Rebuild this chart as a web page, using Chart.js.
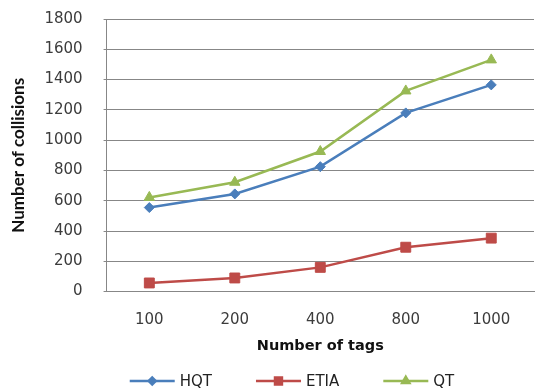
<!DOCTYPE html>
<html>
<head>
<meta charset="utf-8">
<script src="https://cdn.jsdelivr.net/npm/chart.js@4/dist/chart.umd.min.js"></script>
<style>
  html, body { margin: 0; padding: 0; background: #ffffff; overflow: hidden; }
  #wrap { position: relative; width: 542px; height: 392px; }
</style>
</head>
<body>
<div id="wrap"><canvas id="chart" width="542" height="392"></canvas></div>
<script>
// Number of tags on the x axis
const categories = ['100', '200', '400', '800', '1000'];

// Number of collisions per algorithm
const hqtValues  = [555, 645, 825, 1180, 1365];
const etiaValues = [57, 90, 160, 293, 353];
const qtValues   = [622, 722, 925, 1325, 1530];

// Value axis tick labels
const yTickValues = [0, 200, 400, 600, 800, 1000, 1200, 1400, 1600, 1800];

const GRID = '#878787';
const TICK_TEXT = '#3c3c3c';
const WIDE_FONT = '"DejaVu Sans", Verdana, sans-serif';
const NARROW_FONT = 'Lato, "Open Sans", sans-serif';

// Legend drawn as a short line with the series marker in its middle
const lineLegend = {
  id: 'lineLegend',
  afterDraw(chart, args, opts) {
    const ctx = chart.ctx;
    ctx.save();
    ctx.font = opts.fontSize + 'px ' + WIDE_FONT;
    const items = chart.data.datasets.map(ds => ({
      ds,
      w: opts.lineLength + opts.textGap + ctx.measureText(ds.label).width
    }));
    const total = items.reduce((s, it) => s + it.w, 0) + opts.itemGap * (items.length - 1);
    let x = opts.centerX - total / 2;
    const y = chart.height - opts.bottom;
    items.forEach(({ ds, w }) => {
      ctx.strokeStyle = ds.borderColor;
      ctx.lineWidth = ds.borderWidth;
      ctx.beginPath();
      ctx.moveTo(x, y);
      ctx.lineTo(x + opts.lineLength, y);
      ctx.stroke();
      ctx.fillStyle = ds.pointBackgroundColor;
      ctx.strokeStyle = ds.pointBorderColor;
      Chart.helpers.drawPoint(ctx, {
        pointStyle: ds.pointStyle,
        radius: ds.pointRadius * opts.markerScale,
        rotation: 0,
        borderWidth: 1
      }, x + opts.lineLength / 2, y);
      ctx.fillStyle = '#222222';
      ctx.textBaseline = 'middle';
      ctx.textAlign = 'left';
      ctx.fillText(ds.label, x + opts.lineLength + opts.textGap, y + 1);
      x += w + opts.itemGap;
    });
    ctx.restore();
  }
};

function series(label, data, color, style, radius) {
  return {
    label, data,
    borderColor: color,
    backgroundColor: color,
    borderWidth: 2.5,
    pointStyle: style,
    pointRadius: radius,
    pointHoverRadius: radius,
    pointBackgroundColor: color,
    pointBorderColor: color,
    pointBorderWidth: 1,
    tension: 0,
    fill: false
  };
}

new Chart(document.getElementById('chart'), {
  type: 'line',
  data: {
    labels: categories,
    datasets: [
      series('HQT', hqtValues, '#4a7ebb', 'rectRot', 5),
      series('ETIA', etiaValues, '#be4b48', 'rect', 7),
      series('QT', qtValues, '#98b954', 'triangle', 6)
    ]
  },
  options: {
    responsive: false,
    devicePixelRatio: 1,
    animation: false,
    events: [],
    layout: { padding: { top: 19, right: 0, bottom: 33, left: 0 } },
    plugins: {
      legend: { display: false },
      tooltip: { enabled: false },
      lineLegend: {
        fontSize: 15,
        lineLength: 45,
        textGap: 5,
        itemGap: 44,
        centerX: 292,
        bottom: 11,
        markerScale: 0.7
      }
    },
    scales: {
      x: {
        offset: true,
        grid: { display: false, drawTicks: true, tickLength: 20 },
        border: { display: true, color: GRID, width: 1 },
        ticks: {
          color: TICK_TEXT,
          font: { family: WIDE_FONT, size: 15 },
          padding: 0,
          maxRotation: 0
        },
        title: {
          display: true,
          text: 'Number of tags',
          color: '#111111',
          font: { family: WIDE_FONT, size: 14.5, weight: 'bold' },
          padding: { top: 8, bottom: 4 }
        }
      },
      y: {
        min: 0,
        max: 1800,
        afterBuildTicks: scale => {
          scale.ticks = yTickValues.map(v => ({ value: v }));
        },
        grid: {
          color: GRID,
          lineWidth: 1,
          tickLength: 14,
          tickBorderDash: [0, 11, 3, 100]
        },
        border: { display: true, color: GRID, width: 1 },
        ticks: {
          color: TICK_TEXT,
          font: { family: WIDE_FONT, size: 15 },
          padding: 10,
          callback: v => String(v)
        },
        title: {
          display: true,
          text: 'Number of collisions',
          color: '#111111',
          font: { family: NARROW_FONT, size: 17, weight: 'bold' },
          padding: { top: 8, bottom: 6 }
        }
      }
    }
  },
  plugins: [lineLegend]
});
</script>
</body>
</html>
